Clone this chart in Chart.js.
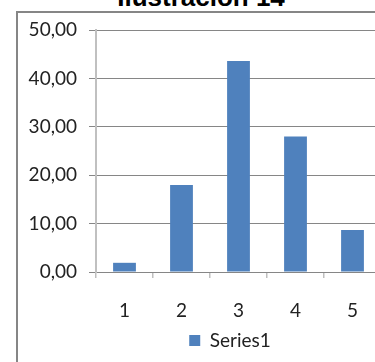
<!DOCTYPE html>
<html>
<head>
<meta charset="utf-8">
<script src="https://cdn.jsdelivr.net/npm/chart.js@4/dist/chart.umd.min.js"></script>
<style>
  html, body { margin: 0; padding: 0; width: 375px; height: 362px; overflow: hidden; background: #fff; }
  #frame { position: absolute; left: 16px; top: 11px; width: 500px; height: 500px;
           border: 2px solid #868686; box-sizing: border-box; }
  #title { position: absolute; left: 0; width: 402px; top: -16px; text-align: center;
           font: bold 26px "Liberation Sans", Arial, sans-serif; line-height: 26px; color: #000; }
  #chart { position: absolute; left: 0; top: 0; }
</style>
</head>
<body>
<div id="frame"></div>
<div id="title">Ilustración 14</div>
<canvas id="chart" width="395" height="362"></canvas>
<script>
// Categories and values of the single series
const categories = ['1', '2', '3', '4', '5'];
const series1 = [1.9, 18.0, 43.6, 28.0, 8.7];
const seriesName = 'Series1';
const yTickValues = [0, 10, 20, 30, 40, 50];

const fmt = v => v.toFixed(2).replace('.', ',');
const tickFont = { family: 'Lato', size: 19 };

// Centre the legend under the plot area rather than the whole canvas
const legendUnderPlot = {
  id: 'legendUnderPlot',
  afterLayout(chart) {
    if (chart.legend) chart.legend.left = chart.chartArea.left - 17;
  }
};

new Chart(document.getElementById('chart'), {
  type: 'bar',
  data: {
    labels: categories,
    datasets: [{
      label: seriesName,
      data: series1,
      backgroundColor: '#4f81bd',
      borderColor: '#4f81bd',
      borderWidth: 0,
      barPercentage: 0.8,
      categoryPercentage: 0.5
    }]
  },
  options: {
    responsive: false,
    devicePixelRatio: 1,
    animation: false,
    layout: { padding: { left: 0, top: 30, right: 14, bottom: 2 } },
    plugins: {
      title: { display: false },
      tooltip: { enabled: false },
      legend: {
        position: 'bottom',
        labels: { boxWidth: 11, boxHeight: 11, padding: 10, color: '#222', font: tickFont }
      }
    },
    scales: {
      x: {
        grid: { drawOnChartArea: false, drawTicks: true, tickLength: 6, tickColor: '#bfbfbf', lineWidth: 1.5 },
        border: { color: '#868686', width: 1 },
        ticks: { color: '#222', font: tickFont, padding: 21 },
        afterFit: s => { s.height = 49; }
      },
      y: {
        min: 0,
        max: 50,
        afterBuildTicks: s => { s.ticks = yTickValues.map(v => ({ value: v })); },
        grid: { color: '#868686', lineWidth: 1, tickLength: 7, tickColor: '#868686' },
        border: { color: '#c0c0c0', width: 2 },
        ticks: { color: '#222', font: tickFont, padding: 12, callback: v => fmt(v) },
        afterFit: s => { s.width = 96; }
      }
    }
  },
  plugins: [legendUnderPlot]
});
</script>
</body>
</html>
